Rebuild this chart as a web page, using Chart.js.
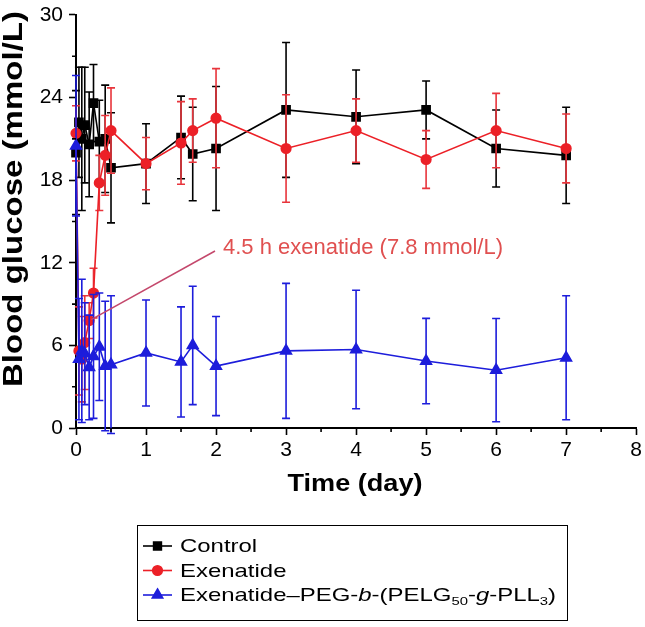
<!DOCTYPE html>
<html>
<head>
<meta charset="utf-8">
<script src="https://cdn.jsdelivr.net/npm/chart.js@4.4.0/dist/chart.umd.min.js"></script>
<style>
  html, body { margin: 0; padding: 0; background: #fff; }
  #wrap { width: 645px; height: 627px; }
</style>
</head>
<body>
<div id="wrap"><canvas id="myChart" width="645" height="627"></canvas></div>
<script>
// time points in days (0 h, 1 h, 2 h, 3 h, 4.5 h, 6 h, 8 h, 10 h, 12 h, then days)
var times = [0, 0.042, 0.083, 0.125, 0.188, 0.25, 0.333, 0.417, 0.5, 1, 1.5, 1.667, 2, 3, 4, 5, 6, 7];

var controlMean = [20.0, 22.2, 21.0, 22.0, 20.6, 23.6, 20.8, 21.0, 18.9, 19.2, 21.1, 19.9, 20.3, 23.1, 22.6, 23.1, 20.3, 19.8];
var controlErr  = [4.5, 4.0, 5.2, 4.2, 3.8, 2.8, 3.0, 3.9, 4.0, 2.9, 3.0, 3.4, 4.5, 4.9, 3.4, 2.1, 2.8, 3.5];

var exenMean = [21.4, 5.6, 5.0, 6.2, 7.8, 9.8, 17.8, 19.8, 21.6, 19.2, 20.7, 21.6, 22.5, 20.3, 21.6, 19.5, 21.6, 20.3];
var exenErr  = [2.0, 3.2, 3.1, 3.4, 1.3, 1.8, 2.0, 2.9, 3.1, 1.9, 3.0, 2.3, 3.6, 3.9, 2.3, 2.1, 2.7, 2.5];

var polyMean = [20.5, 5.0, 5.6, 5.4, 4.4, 5.2, 5.9, 4.5, 4.6, 5.45, 4.8, 6.0, 4.5, 5.6, 5.7, 4.86, 4.2, 5.1];
var polyErr  = [5.1, 4.4, 5.2, 3.7, 3.8, 4.5, 3.9, 4.7, 5.0, 3.85, 4.0, 4.3, 3.6, 4.9, 4.3, 3.1, 3.75, 4.5];

var xTicks = [0, 1, 2, 3, 4, 5, 6, 7, 8];
var yTicks = [0, 6, 12, 18, 24, 30];

var seriesNames = ['Control', 'Exenatide', 'Exenatide–PEG-b-(PELG50-g-PLL3)'];

function pts(mean) {
  return times.map(function(t, i) { return { x: t, y: mean[i] }; });
}

Chart.defaults.font.family = "'Liberation Sans', Arial, sans-serif";
Chart.defaults.color = '#000';

var BLACK = '#000000', RED = '#ec2027', BLUE = '#1d1ddb';

// error bars, drawn under each dataset's own line
var errorBars = {
  id: 'errorBars',
  beforeDatasetDraw: function(chart, args) {
    var ds = chart.data.datasets[args.index];
    var xs = chart.scales.x, ys = chart.scales.y, ctx = chart.ctx;
    ctx.save();
    ctx.strokeStyle = ds.errColor;
    ctx.lineWidth = 1.6;
    ds.data.forEach(function(p, i) {
      var e = ds.errors[i];
      var px = xs.getPixelForValue(p.x);
      var top = ys.getPixelForValue(p.y + e), bot = ys.getPixelForValue(p.y - e);
      ctx.beginPath();
      ctx.moveTo(px, top); ctx.lineTo(px, bot);
      ctx.moveTo(px - 4, top); ctx.lineTo(px + 4, top);
      ctx.moveTo(px - 4, bot); ctx.lineTo(px + 4, bot);
      ctx.stroke();
    });
    ctx.restore();
  }
};

function fitText(ctx, txt, cx, cy, width, rot) {
  var w = ctx.measureText(txt).width;
  ctx.save();
  ctx.translate(cx, cy);
  if (rot) ctx.rotate(rot);
  ctx.scale(width / w, 1);
  ctx.textAlign = 'center';
  ctx.textBaseline = 'middle';
  ctx.fillText(txt, 0, 0);
  ctx.restore();
}

// rich legend label: italics and subscripts
var richLabel = [
  { t: 'Exenatide–PEG-' }, { t: 'b', i: true }, { t: '-(PELG' }, { t: '50', sub: true },
  { t: '-' }, { t: 'g', i: true }, { t: '-PLL' }, { t: '3', sub: true }, { t: ')' }
];

function segFont(s, size) {
  var sz = s.sub ? size * 0.62 : size;
  return (s.i ? 'italic ' : '') + sz + "px 'Liberation Sans', Arial, sans-serif";
}

function richWidth(ctx, segs, size) {
  var w = 0;
  segs.forEach(function(s) { ctx.font = segFont(s, size); w += ctx.measureText(s.t).width; });
  return w;
}

function drawRich(ctx, segs, x, y, size, sx) {
  ctx.save();
  ctx.translate(x, y);
  ctx.scale(sx, 1);
  ctx.textAlign = 'left';
  ctx.textBaseline = 'alphabetic';
  var cx = 0;
  segs.forEach(function(s) {
    ctx.font = segFont(s, size);
    ctx.fillText(s.t, cx, s.sub ? 4 : 0);
    cx += ctx.measureText(s.t).width;
  });
  ctx.restore();
}

var decorations = {
  id: 'decorations',
  afterDraw: function(chart) {
    var ctx = chart.ctx, xs = chart.scales.x, ys = chart.scales.y;
    var area = chart.chartArea;

    // minor ticks
    ctx.save();
    ctx.strokeStyle = '#000';
    ctx.lineWidth = 1.6;
    ctx.beginPath();
    for (var v = 0.5; v < 8; v += 1) {
      var px = xs.getPixelForValue(v);
      ctx.moveTo(px, area.bottom); ctx.lineTo(px, area.bottom + 4);
    }
    for (var w = 3; w < 30; w += 6) {
      var py = ys.getPixelForValue(w);
      ctx.moveTo(area.left, py); ctx.lineTo(area.left - 4, py);
    }
    ctx.stroke();
    ctx.restore();

    // axis titles
    ctx.save();
    ctx.fillStyle = '#000';
    ctx.font = "bold 27px 'Liberation Sans', Arial, sans-serif";
    fitText(ctx, 'Blood glucose (mmol/L)', 15, 199, 376, -Math.PI / 2);
    ctx.font = "bold 24px 'Liberation Sans', Arial, sans-serif";
    fitText(ctx, 'Time (day)', 355, 484, 135, 0);
    ctx.restore();

    // annotation
    var ax = xs.getPixelForValue(times[4]), ay = ys.getPixelForValue(exenMean[4]);
    ctx.save();
    ctx.strokeStyle = '#c4486c';
    ctx.lineWidth = 1.5;
    ctx.beginPath();
    ctx.moveTo(ax + 2, ay - 1);
    ctx.lineTo(215, 251);
    ctx.stroke();
    ctx.fillStyle = '#e05050';
    ctx.font = "22px 'Liberation Sans', Arial, sans-serif";
    ctx.textAlign = 'left';
    ctx.textBaseline = 'middle';
    ctx.fillText('4.5 h exenatide (7.8 mmol/L)', 223, 248);
    ctx.restore();

    // legend box
    ctx.save();
    ctx.strokeStyle = '#000';
    ctx.lineWidth = 1;
    ctx.strokeRect(137.5, 525.5, 430, 95);
    var size = 18.5;
    var sx = 376 / richWidth(ctx, richLabel, size);
    var rows = [
      { segs: [{ t: seriesNames[0] }], color: BLACK, style: 'rect', r: 5.5 },
      { segs: [{ t: seriesNames[1] }], color: RED, style: 'circle', r: 4.8 },
      { segs: richLabel, color: BLUE, style: 'triangle', r: 6 }
    ];
    rows.forEach(function(row, i) {
      var base = 552 + i * 24.5, mid = base - 6;
      ctx.strokeStyle = row.color;
      ctx.fillStyle = row.color;
      ctx.lineWidth = 1.6;
      ctx.beginPath();
      ctx.moveTo(143, mid); ctx.lineTo(172, mid);
      ctx.stroke();
      Chart.helpers.drawPoint(ctx, { pointStyle: row.style, radius: row.r, rotation: 0, borderWidth: 1 }, 157.5, mid);
      ctx.fillStyle = '#000';
      drawRich(ctx, row.segs, 180, base, size, sx);
    });
    ctx.restore();
  }
};

var ctx = document.getElementById('myChart').getContext('2d');
var myChart = new Chart(ctx, {
  type: 'line',
  data: {
    datasets: [
      {
        label: seriesNames[0], data: pts(controlMean), errors: controlErr, errColor: BLACK,
        borderColor: BLACK, backgroundColor: BLACK, pointStyle: 'rect', pointRadius: 5.7,
        borderWidth: 1.6, order: 3, clip: false
      },
      {
        label: seriesNames[1], data: pts(exenMean), errors: exenErr, errColor: '#e8353c',
        borderColor: RED, backgroundColor: RED, pointStyle: 'circle', pointRadius: 4.8,
        borderWidth: 1.6, order: 2, clip: false
      },
      {
        label: seriesNames[2], data: pts(polyMean), errors: polyErr, errColor: BLUE,
        borderColor: BLUE, backgroundColor: BLUE, pointStyle: 'triangle', pointRadius: 6.2,
        borderWidth: 1.6, order: 1, clip: false
      }
    ]
  },
  options: {
    responsive: false,
    animation: false,
    layout: { padding: 0 },
    elements: { line: { tension: 0 }, point: { borderWidth: 1, hoverRadius: 5 } },
    plugins: { legend: { display: false }, tooltip: { enabled: false } },
    scales: {
      x: {
        type: 'linear', min: 0, max: 8,
        afterBuildTicks: function(scale) { scale.ticks = xTicks.map(function(v) { return { value: v }; }); },
        afterFit: function(scale) { scale.height = 199; },
        ticks: { font: { size: 21 }, padding: 3, maxRotation: 0, autoSkip: false },
        grid: { drawOnChartArea: false, drawTicks: true, tickLength: 7, tickWidth: 1.6, tickColor: '#000' },
        border: { color: '#000', width: 2 }
      },
      y: {
        type: 'linear', min: 0, max: 30,
        afterBuildTicks: function(scale) { scale.ticks = yTicks.map(function(v) { return { value: v }; }); },
        afterFit: function(scale) { scale.width = 76; },
        ticks: { font: { size: 21, lineHeight: 0.85 }, padding: 6 },
        grid: { drawOnChartArea: false, drawTicks: true, tickLength: 7, tickWidth: 1.6, tickColor: '#000' },
        border: { color: '#000', width: 2 }
      }
    }
  },
  plugins: [errorBars, decorations]
});
</script>
</body>
</html>
